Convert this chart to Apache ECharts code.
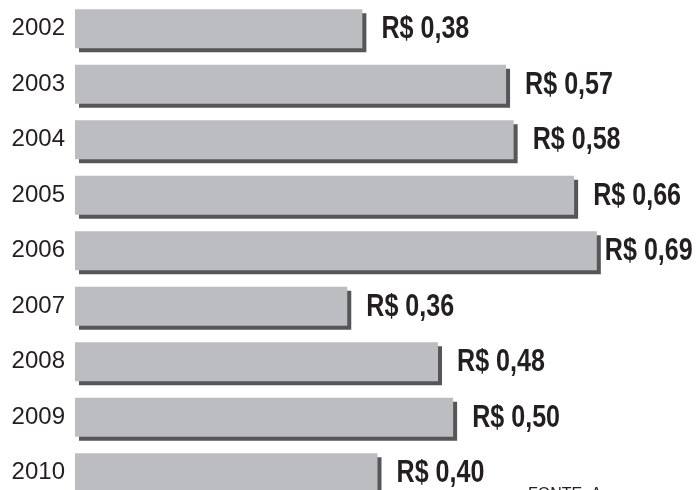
<!DOCTYPE html>
<html>
<head>
<meta charset="utf-8">
<script src="https://cdn.jsdelivr.net/npm/echarts@6/dist/echarts.min.js"></script>
<style>
html,body{margin:0;padding:0;background:#fff;}
#chart{width:698px;height:490px;}
</style>
</head>
<body>
<div id="chart"></div>
<script>
var years = ['2002','2003','2004','2005','2006','2007','2008','2009','2010'];
var values = [0.38, 0.57, 0.58, 0.66, 0.69, 0.36, 0.48, 0.50, 0.40];
var sourceText = 'FONTE: A';

var chart = echarts.init(document.getElementById('chart'));
var maxVal = Math.max.apply(null, values);
var labelData = values.map(function (v, i) { return [v, i]; });

function fmt(v) { return 'R$ ' + v.toFixed(2).replace('.', ','); }

chart.setOption({
  animation: false,
  backgroundColor: '#ffffff',
  grid: { left: 75, top: 1, height: 499.5, width: 605, outerBoundsMode: 'none', containLabel: false },
  xAxis: {
    type: 'value', min: 0, max: 0.8,
    show: false
  },
  yAxis: {
    type: 'category', data: years, inverse: true,
    axisLine: { show: false }, axisTick: { show: false },
    axisLabel: {
      margin: 10, color: '#231f20',
      fontFamily: 'Liberation Sans, Arial, sans-serif', fontSize: 24
    }
  },
  series: [{
    type: 'bar',
    data: values,
    barWidth: 39,
    itemStyle: {
      color: '#bcbdc0',
      shadowColor: '#555658',
      shadowBlur: 0,
      shadowOffsetX: 4,
      shadowOffsetY: 4
    }
  }, {
    type: 'custom',
    data: labelData,
    encode: { x: 0, y: 1 },
    clip: false,
    silent: true,
    renderItem: function (params, api) {
      var v = api.value(0);
      var p = api.coord([v, api.value(1)]);
      var gap = v === maxVal ? 8 : 19;
      return {
        type: 'text',
        x: p[0] + gap,
        y: p[1] + 1,
        scaleX: 0.81,
        style: {
          text: fmt(v),
          fill: '#231f20',
          font: 'bold 31px Liberation Sans, Arial, sans-serif',
          align: 'left',
          verticalAlign: 'middle'
        }
      };
    }
  }],
  graphic: [{
    type: 'text', left: 528, top: 487,
    style: { text: sourceText, fill: '#231f20', font: '16px Liberation Sans, Arial, sans-serif' }
  }]
});
</script>
</body>
</html>
